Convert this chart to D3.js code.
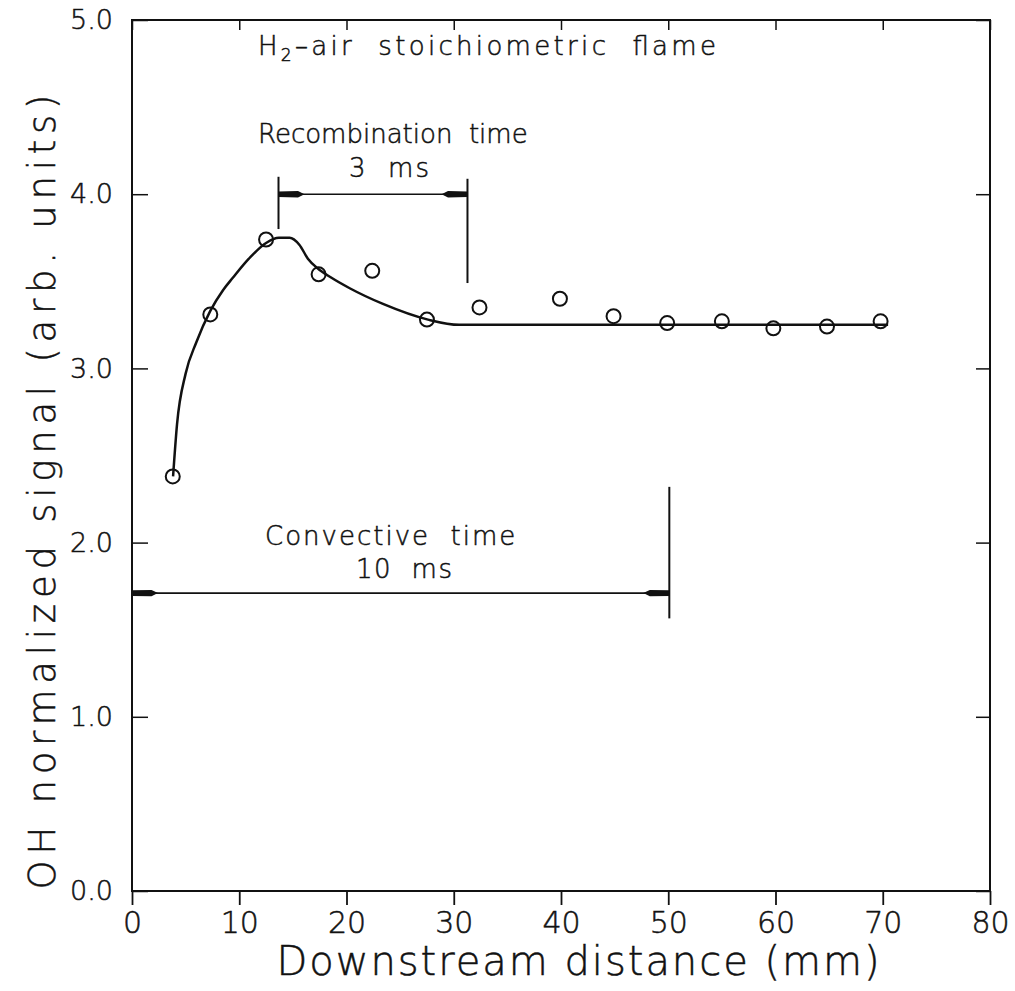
<!DOCTYPE html>
<html lang="en">
<head>
<meta charset="UTF-8">
<title>OH normalized signal</title>
<script src="https://d3js.org/d3.v7.min.js"></script>
<style>
    body { margin: 0; background: white; }
    svg text { font-family: "DejaVu Sans", sans-serif; font-weight: 200; fill: #111; stroke: #111; stroke-width: 0.5px; white-space: pre; }
</style>
</head>
<body>
<svg id="chart"></svg>
<script>
// measured points (circles)
const pointX = [3.8, 7.3, 12.5, 17.4, 22.4, 27.5, 32.4, 39.9, 44.9, 49.9, 55.0, 59.8, 64.8, 69.8];
const pointY = [2.38, 3.31, 3.74, 3.54, 3.56, 3.28, 3.35, 3.40, 3.30, 3.26, 3.27, 3.23, 3.24, 3.27];

// fitted curve
const curveX = [3.83, 4.2, 5.0, 6.0, 7.3, 8.5, 9.4, 10.9, 12.5, 13.7, 14.7, 15.6, 16.4, 17.3, 18.6, 20.3, 23.4, 27.6, 30.5, 40, 50, 60, 70.5];
const curveY = [2.38, 2.68, 2.97, 3.15, 3.33, 3.45, 3.52, 3.63, 3.72, 3.75, 3.75, 3.71, 3.63, 3.575, 3.52, 3.46, 3.37, 3.28, 3.25, 3.25, 3.25, 3.25, 3.25];

const xTicks = [0, 10, 20, 30, 40, 50, 60, 70, 80];
const yTicks = [0, 1, 2, 3, 4, 5];

// annotation brackets (data units)
const recomb = {x0: 13.66, x1: 31.28, y: 4.0, top: 4.10, bottom0: 3.80, bottom1: 3.49};
const convect = {x0: 0, x1: 50.1, y: 1.71, top: 2.32, bottom: 1.565};

const width = 1015, height = 991;
const margin = {left: 132, right: 25, top: 20, bottom: 100};

const svg = d3.select("#chart").attr("width", width).attr("height", height);

const x = d3.scaleLinear().domain([0, 80]).range([margin.left, width - margin.right]);
const y = d3.scaleLinear().domain([0, 5]).range([height - margin.bottom, margin.top]);

// frame
svg.append("rect")
    .attr("x", x(0)).attr("y", y(5))
    .attr("width", x(80) - x(0)).attr("height", y(0) - y(5))
    .attr("fill", "none").attr("stroke", "#111").attr("stroke-width", 2);

// bottom axis (ticks point out)
const gx = svg.append("g").attr("transform", `translate(0,${y(0)})`)
    .call(d3.axisBottom(x).tickValues(xTicks).tickSize(14).tickPadding(7).tickFormat(d3.format("d")));
gx.select(".domain").remove();
gx.selectAll("line").attr("stroke", "#111").attr("stroke-width", 1.8);
gx.selectAll("text").style("font-size", "30px");

// top ticks
const gxt = svg.append("g").attr("transform", `translate(0,${y(5)})`)
    .call(d3.axisTop(x).tickValues(xTicks).tickSize(-10).tickFormat(""));
gxt.select(".domain").remove();
gxt.selectAll("line").attr("stroke", "#111").attr("stroke-width", 1.5);

// left axis
const gy = svg.append("g").attr("transform", `translate(${x(0)},0)`)
    .call(d3.axisLeft(y).tickValues(yTicks).tickSize(-16).tickPadding(19).tickFormat(d3.format(".1f")));
gy.select(".domain").remove();
gy.selectAll("line").attr("stroke", "#111").attr("stroke-width", 1.5);
gy.selectAll("text").style("font-size", "27px");

// right ticks
const gyr = svg.append("g").attr("transform", `translate(${x(80)},0)`)
    .call(d3.axisRight(y).tickValues(yTicks).tickSize(-14).tickFormat(""));
gyr.select(".domain").remove();
gyr.selectAll("line").attr("stroke", "#111").attr("stroke-width", 1.5);

// axis titles
svg.append("text")
    .attr("x", 578).attr("y", 975)
    .attr("text-anchor", "middle").style("font-size", "40px")
    .attr("textLength", 603).attr("lengthAdjust", "spacing")
    .text("Downstream distance (mm)");

svg.append("text")
    .attr("transform", `translate(55,492) rotate(-90)`)
    .attr("text-anchor", "middle").style("font-size", "37px")
    .attr("textLength", 795).attr("lengthAdjust", "spacing")
    .text("OH normalized signal (arb. units)");

// curve
const line = d3.line().x(d => x(d[0])).y(d => y(d[1])).curve(d3.curveMonotoneX);
svg.append("path")
    .datum(d3.zip(curveX, curveY))
    .attr("d", line)
    .attr("fill", "none").attr("stroke", "#111").attr("stroke-width", 2.5);

// points
svg.append("g").selectAll("circle")
    .data(d3.zip(pointX, pointY))
    .join("circle")
    .attr("cx", d => x(d[0])).attr("cy", d => y(d[1]))
    .attr("r", 7)
    .attr("fill", "none").attr("stroke", "#111").attr("stroke-width", 2);

// arrowhead: dir = 1 tail to the right, dir = -1 tail to the left
function arrowHead(px, py, dir) {
    const L = 26 * dir;
    const p = d3.path();
    p.moveTo(px, py - 2.8);
    p.lineTo(px + L * 0.75, py - 3.2);
    p.lineTo(px + L, py);
    p.lineTo(px + L * 0.75, py + 3.2);
    p.lineTo(px, py + 2.8);
    p.closePath();
    svg.append("path").attr("d", p.toString()).attr("fill", "#111");
}

const ann = svg.append("g").attr("stroke", "#111").attr("stroke-width", 2);

// recombination bracket
ann.append("line").attr("x1", x(recomb.x0)).attr("x2", x(recomb.x0))
    .attr("y1", y(recomb.top)).attr("y2", y(recomb.bottom0));
ann.append("line").attr("x1", x(recomb.x1)).attr("x2", x(recomb.x1))
    .attr("y1", y(recomb.top) + 2).attr("y2", y(recomb.bottom1));
ann.append("line").attr("x1", x(recomb.x0)).attr("x2", x(recomb.x1))
    .attr("y1", y(recomb.y)).attr("y2", y(recomb.y)).attr("stroke-width", 1.6);
arrowHead(x(recomb.x0), y(recomb.y), 1);
arrowHead(x(recomb.x1), y(recomb.y), -1);

// convective bracket
ann.append("line").attr("x1", x(convect.x1)).attr("x2", x(convect.x1))
    .attr("y1", y(convect.top)).attr("y2", y(convect.bottom));
ann.append("line").attr("x1", x(convect.x0)).attr("x2", x(convect.x1))
    .attr("y1", y(convect.y)).attr("y2", y(convect.y)).attr("stroke-width", 1.6);
arrowHead(x(convect.x0), y(convect.y), 1);
arrowHead(x(convect.x1), y(convect.y), -1);

// labels
const title = svg.append("text").attr("x", 258).attr("y", 55).style("font-size", "26px")
    .attr("textLength", 458).attr("lengthAdjust", "spacing");
title.append("tspan").text("H");
title.append("tspan").attr("dy", 6).style("font-size", "17px").text("2");
title.append("tspan").attr("dy", -6).text("\u2013air  stoichiometric  flame");

svg.append("text").attr("x", 258).attr("y", 143).style("font-size", "26px")
    .text("Recombination  time");
svg.append("text").attr("x", 349).attr("y", 177).style("font-size", "26px")
    .style("letter-spacing", "2px").text("3  ms");

svg.append("text").attr("x", 265).attr("y", 545).style("font-size", "26px")
    .style("letter-spacing", "2px").text("Convective  time");
svg.append("text").attr("x", 356).attr("y", 578).style("font-size", "26px")
    .style("letter-spacing", "1.5px").text("10  ms");
</script>
</body>
</html>
